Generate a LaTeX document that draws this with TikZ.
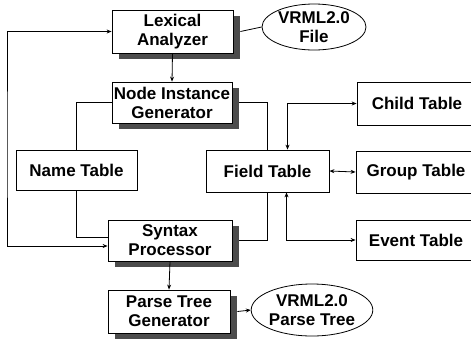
\documentclass[tikz,border=0pt]{standalone}
\usepackage{fontspec}
\setmainfont{Liberation Sans}
\usetikzlibrary{arrows.meta,shapes.geometric,backgrounds}
\begin{document}
\begin{tikzpicture}[x=1pt,y=-1pt,
  every node/.style={font=\fontsize{17}{19}\selectfont\bfseries, align=center, inner sep=0pt},
  box/.style={draw, line width=0.8pt, fill=white, rectangle},
  oval/.style={draw, line width=0.8pt, ellipse},
  wire/.style={line width=0.8pt},
  shadowfill/.style={fill=black!70},
  tip/.style={-{Stealth[length=5pt,width=4pt]}},
  both/.style={{Stealth[length=5pt,width=4pt]}-{Stealth[length=5pt,width=4pt]}}
]
\useasboundingbox (0,0) rectangle (471,338);

% processing stages
\node[box, minimum width=121pt, minimum height=43pt] (LA) at (172.5,31.5) {Lexical\\Analyzer};
\node[box, minimum width=120pt, minimum height=41pt] (NIG) at (172,102.5) {Node Instance\\Generator};
\node[box, minimum width=124pt, minimum height=41pt] (SP) at (170,240.5) {Syntax\\Processor};
\node[box, minimum width=122pt, minimum height=43pt] (PTG) at (169,311.5) {Parse Tree\\Generator};

% drop shadows of the stages
\begin{scope}[on background layer]
  \foreach \s in {LA,NIG,SP,PTG}
    \fill[shadowfill] ([shift={(7pt,-6pt)}]\s.south west) rectangle ([shift={(7pt,-6pt)}]\s.north east);
\end{scope}

% tables
\node[box, minimum width=121pt, minimum height=40pt] (NT) at (76.5,170) {Name Table};
\node[box, minimum width=123pt, minimum height=42pt] (FT) at (267.5,171) {Field Table};
\node[box, minimum width=120pt, minimum height=43pt] (CT) at (417,103.5) {Child Table};
\node[box, minimum width=120pt, minimum height=42pt] (GT) at (416,172) {Group Table};
\node[box, minimum width=120pt, minimum height=40pt] (ET) at (416,240) {Event Table};

% input and output
\node[oval, minimum width=104pt, minimum height=46pt] (E1) at (314,27) {VRML2.0\\File};
\node[oval, minimum width=108pt, minimum height=52pt] (E2) at (312,310) {VRML2.0\\Parse Tree};

\coordinate (loopx) at (7,150);

% connectors
\draw[wire] ([xshift=7pt]LA.east) -- (E1.west);
\draw[wire, tip] (LA.south) -- (NIG.north);
\draw[wire] (NT.north) |- (NIG.west);
\draw[wire] (NT.south) |- ([yshift=3.5pt]SP.west);
\draw[wire, both] ([yshift=-5.5pt]SP.west) -| (loopx) |- (LA.west);
\draw[wire] ([xshift=7pt]NIG.east) -| (FT.north);
\draw[wire] ([xshift=7pt]SP.east) -| (FT.south);
\draw[wire, both] (CT.west) -| ([xshift=20pt]FT.north);
\draw[wire, both] (FT.east) -- (GT.west);
\draw[wire, both] ([xshift=19pt]FT.south) |- (ET.west);
\draw[wire, tip] (SP.south) -- (PTG.north);
\draw[wire, tip] ([xshift=7pt]PTG.east) -- (E2.west);
\end{tikzpicture}
\end{document}
